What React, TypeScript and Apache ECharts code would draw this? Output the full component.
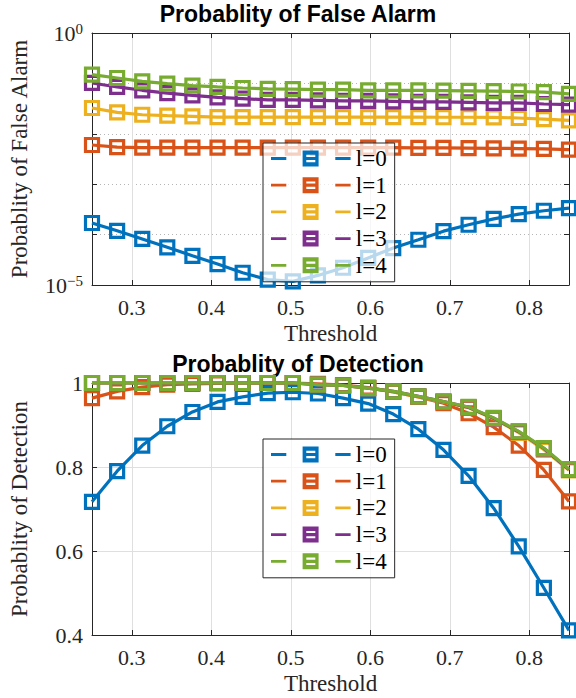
import React, { useEffect, useRef } from 'react';
import * as echarts from 'echarts';

const thresholds = [0.25, 0.2816, 0.3132, 0.3447, 0.3763, 0.4079, 0.4395, 0.4711, 0.5026, 0.5342, 0.5658, 0.5974, 0.6289, 0.6605, 0.6921, 0.7237, 0.7553, 0.7868, 0.8184, 0.85];
const seriesNames = ['l=0', 'l=1', 'l=2', 'l=3', 'l=4'];
const colors = ['#0072BD', '#D95319', '#EDB120', '#7E2F8E', '#77AC30'];

// Probability of false alarm (log scale)
const pfaL0 = [1.7e-4, 1.19e-4, 8.2e-5, 5.6e-5, 3.8e-5, 2.6e-5, 1.75e-5, 1.28e-5, 1.18e-5, 1.55e-5, 2.2e-5, 3.45e-5, 5.4e-5, 7.9e-5, 1.17e-4, 1.57e-4, 2.05e-4, 2.55e-4, 2.97e-4, 3.35e-4];
const pfaL1 = [6.0e-3, 5.45e-3, 5.3e-3, 5.3e-3, 5.3e-3, 5.3e-3, 5.3e-3, 5.3e-3, 5.3e-3, 5.3e-3, 5.3e-3, 5.3e-3, 5.3e-3, 5.25e-3, 5.25e-3, 5.2e-3, 5.15e-3, 5.1e-3, 5.0e-3, 4.85e-3];
const pfaL2 = [0.0325, 0.0266, 0.0239, 0.0229, 0.0222, 0.0215, 0.0215, 0.0215, 0.0215, 0.0215, 0.0215, 0.0215, 0.0215, 0.0215, 0.0213, 0.0213, 0.0212, 0.0206, 0.0196, 0.0185];
const pfaL3 = [0.102, 0.085, 0.073, 0.064, 0.058, 0.053, 0.05, 0.047, 0.047, 0.046, 0.045, 0.045, 0.044, 0.043, 0.043, 0.042, 0.041, 0.041, 0.039, 0.038];
const pfaL4 = [0.149, 0.128, 0.11, 0.099, 0.09, 0.085, 0.081, 0.078, 0.077, 0.075, 0.075, 0.073, 0.073, 0.073, 0.072, 0.071, 0.07, 0.069, 0.067, 0.062];

// Probability of detection
const pdL0 = [0.717, 0.79, 0.851, 0.897, 0.931, 0.955, 0.967, 0.976, 0.978, 0.975, 0.964, 0.951, 0.926, 0.89, 0.841, 0.779, 0.702, 0.611, 0.512, 0.411];
const pdL1 = [0.964, 0.98, 0.99, 0.996, 0.998, 0.999, 1.0, 1.0, 1.0, 0.998, 0.995, 0.989, 0.979, 0.967, 0.952, 0.928, 0.895, 0.851, 0.793, 0.718];
const pdL2 = [1.0, 1.0, 1.0, 1.0, 1.0, 1.0, 1.0, 1.0, 1.0, 0.996, 0.994, 0.988, 0.979, 0.967, 0.955, 0.941, 0.915, 0.882, 0.841, 0.792];
const pdL3 = [1.0, 1.0, 1.0, 1.0, 1.0, 1.0, 1.0, 1.0, 1.0, 0.996, 0.994, 0.988, 0.98, 0.968, 0.956, 0.942, 0.916, 0.884, 0.844, 0.794];
const pdL4 = [1.0, 1.0, 1.0, 1.0, 1.0, 1.0, 1.0, 1.0, 1.0, 0.996, 0.994, 0.988, 0.98, 0.968, 0.956, 0.943, 0.917, 0.885, 0.845, 0.795];

const pfaSeries = [pfaL0, pfaL1, pfaL2, pfaL3, pfaL4];
const pdSeries = [pdL0, pdL1, pdL2, pdL3, pdL4];

const xTicks = [0.3, 0.4, 0.5, 0.6, 0.7, 0.8];
const topTitle = 'Probablity of False Alarm';
const bottomTitle = 'Probablity of Detection';
const xName = 'Threshold';
const pfaName = 'Probablity of False Alarm';
const pdName = 'Probablity of Detection';

const SERIF = 'Liberation Serif';
const SANS = 'Liberation Sans';
const AXIS = '#262626';

// legend icon: dash, hollow square crossed by the line, dash (80 x 16)
const LEGEND_ICON =
  'path://M0 6.6H15.3V9.4H0Z' +
  'M31.6 0H47.6V16H31.6Z' +
  'M35.3 4.3V11.7H44.3V4.3Z' +
  'M35.3 6.4H44.3V9.6H35.3Z' +
  'M64.3 6.6H79.6V9.4H64.3Z';

export default function App() {
  const ref = useRef<HTMLDivElement>(null);

  useEffect(() => {
    if (!ref.current) return;
    const chart = echarts.init(ref.current, null, { renderer: 'svg' });

    const tickLabel = { fontFamily: SERIF, fontSize: 22, color: AXIS };
    const nameStyle = { fontFamily: SERIF, fontSize: 23, color: AXIS };

    const xAxisFor = (grid: number, top: boolean) => ({
      type: 'value',
      gridIndex: grid,
      min: 0.25,
      max: 0.85,
      position: top ? 'top' : 'bottom',
      axisLine: { show: true, onZero: false, lineStyle: { color: AXIS, width: 1 } },
      axisTick: { show: true, inside: true, length: 5, customValues: xTicks, lineStyle: { color: AXIS } },
      axisLabel: {
        show: !top,
        customValues: xTicks,
        margin: 11,
        ...tickLabel,
        formatter: (v: number) => v.toFixed(1),
      },
      splitLine: { show: !top, lineStyle: { color: '#dfdfdf', width: 1 } },
      name: top ? '' : xName,
      nameLocation: 'middle',
      nameGap: 37,
      nameTextStyle: nameStyle,
    });

    const logFormatter = (v: number) => {
      const e = Math.round(Math.log10(v));
      if (e === 0) return '{b|10}{s|0}';
      if (e === -5) return '{b|10}{s|\u22125}';
      return '';
    };

    const pfaAxis = (right: boolean) => ({
      type: 'log',
      logBase: 10,
      gridIndex: 0,
      min: 1e-5,
      max: 1,
      splitNumber: 5,
      position: right ? 'right' : 'left',
      axisLine: { show: true, onZero: false, lineStyle: { color: AXIS, width: 1 } },
      axisTick: { show: true, inside: true, length: 5, lineStyle: { color: AXIS } },
      axisLabel: {
        show: !right,
        margin: 9,
        showMinLabel: true,
        showMaxLabel: true,
        formatter: logFormatter,
        rich: {
          b: { fontFamily: SERIF, fontSize: 22, color: AXIS, lineHeight: 24 },
          s: { fontFamily: SERIF, fontSize: 15, color: AXIS, lineHeight: 15, verticalAlign: 'top' },
        },
      },
      splitLine: { show: !right, lineStyle: { color: '#b5b5b5', width: 1, type: [1, 3] } },
      name: right ? '' : pfaName,
      nameLocation: 'middle',
      nameGap: 61,
      nameRotate: 90,
      nameTextStyle: nameStyle,
    });

    const pdAxis = (right: boolean) => ({
      type: 'value',
      gridIndex: 1,
      min: 0.4,
      max: 1,
      interval: 0.2,
      position: right ? 'right' : 'left',
      axisLine: { show: true, onZero: false, lineStyle: { color: AXIS, width: 1 } },
      axisTick: { show: true, inside: true, length: 5, lineStyle: { color: AXIS } },
      axisLabel: {
        show: !right,
        margin: 9,
        ...tickLabel,
        formatter: (v: number) => (Math.abs(v - 1) < 1e-9 ? '1' : v.toFixed(1)),
      },
      splitLine: { show: !right, lineStyle: { color: '#dfdfdf', width: 1 } },
      name: right ? '' : pdName,
      nameLocation: 'middle',
      nameGap: 61,
      nameRotate: 90,
      nameTextStyle: nameStyle,
    });

    const makeSeries = (values: number[][], xi: number, yi: number) =>
      values.map((vals, k) => ({
        type: 'line',
        name: seriesNames[k],
        xAxisIndex: xi,
        yAxisIndex: yi,
        data: thresholds.map((t, i) => [t, vals[i]]),
        symbol: 'rect',
        symbolSize: 13,
        clip: false,
        silent: true,
        lineStyle: { color: colors[k], width: 3.2 },
        itemStyle: { color: 'rgba(0,0,0,0)', borderColor: colors[k], borderWidth: 3.2 },
        emphasis: { disabled: true },
        z: 2 + k * 0.01,
      }));

    const legendFor = (top: number) => ({
      orient: 'vertical',
      left: 263,
      top,
      itemWidth: 80,
      itemHeight: 16,
      itemGap: 3.7,
      padding: [4, 8, 5, 8],
      backgroundColor: 'rgba(255,255,255,0.72)',
      borderColor: AXIS,
      borderWidth: 1,
      selectedMode: false,
      textStyle: { fontFamily: SERIF, fontSize: 23, color: '#000', lineHeight: 23 },
      data: seriesNames.map((n, k) => ({
        name: n,
        icon: LEGEND_ICON,
        itemStyle: { color: colors[k], borderWidth: 0 },
      })),
    });

    chart.setOption({
      animation: false,
      backgroundColor: '#ffffff',
      grid: [
        { left: 88, top: 33, width: 481, height: 252 },
        { left: 88, top: 383, width: 481, height: 252 },
      ],
      xAxis: [xAxisFor(0, false), xAxisFor(0, true), xAxisFor(1, false), xAxisFor(1, true)],
      yAxis: [pfaAxis(false), pfaAxis(true), pdAxis(false), pdAxis(true)],
      legend: [legendFor(143), legendFor(439)],
      series: [...makeSeries(pfaSeries, 0, 0), ...makeSeries(pdSeries, 2, 2)],
      graphic: [
        {
          type: 'text',
          x: 298,
          y: 14,
          style: { text: topTitle, fontFamily: SANS, fontWeight: 'bold', fontSize: 23, fill: '#000', align: 'center', verticalAlign: 'middle' },
        },
        {
          type: 'text',
          x: 298,
          y: 364,
          style: { text: bottomTitle, fontFamily: SANS, fontWeight: 'bold', fontSize: 23, fill: '#000', align: 'center', verticalAlign: 'middle' },
        },
      ],
    });

    return () => chart.dispose();
  }, []);

  return <div ref={ref} style={{ position: 'fixed', left: 0, top: 0, width: 576, height: 698 }} />;
}
